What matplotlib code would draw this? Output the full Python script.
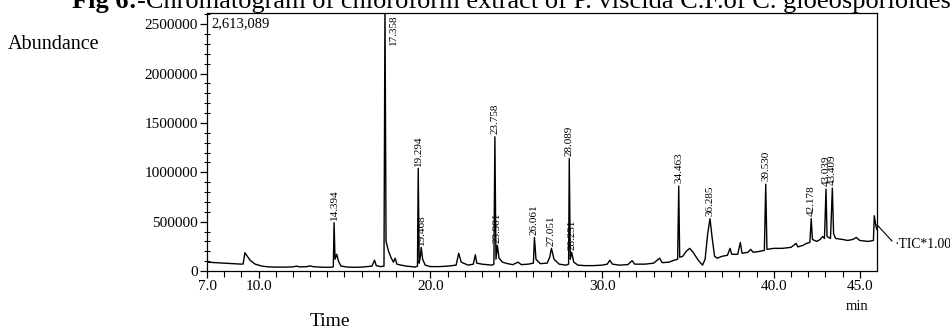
import matplotlib
matplotlib.use("Agg")
import matplotlib.pyplot as plt
import numpy as np

plt.rcParams['font.family'] = ['Liberation Serif', 'DejaVu Serif']

# chromatogram trace, vertices (time in min, abundance)
rt = [7.0, 7.5, 8.0, 8.5, 9.0, 9.1, 9.2, 9.3, 9.5, 9.8, 10.2, 10.6,
      11.0, 11.5, 12.0, 12.2, 12.4, 12.8, 13.0, 13.2, 13.6, 14.0, 14.3,
      14.35, 14.394, 14.45, 14.55, 14.65, 14.8, 15.2, 15.6, 16.0, 16.3, 16.6,
      16.75, 16.85, 17.1, 17.3, 17.358, 17.42, 17.55, 17.7, 17.85, 17.95,
      18.05, 18.3, 18.6, 18.9, 19.1, 19.25, 19.294, 19.35, 19.42, 19.468,
      19.55, 19.7, 20.0, 20.5, 21.0, 21.5, 21.65, 21.8, 22.2, 22.5, 22.62,
      22.7, 23.0, 23.3, 23.6, 23.7, 23.758, 23.82, 23.901, 24.0, 24.2, 24.5,
      24.8, 25.1, 25.3, 25.7, 26.0, 26.061, 26.15, 26.4, 26.8, 26.95, 27.051,
      27.2, 27.5, 27.9, 28.05, 28.089, 28.15, 28.231, 28.35, 28.6, 29.0,
      29.5, 30.0, 30.3, 30.45, 30.6, 31.0, 31.5, 31.75, 31.9, 32.5, 33.0,
      33.35, 33.5, 33.9, 34.2, 34.4, 34.463, 34.52, 34.7, 34.9, 35.1, 35.3,
      35.6, 35.85, 36.0, 36.15, 36.285, 36.4, 36.55, 36.7, 37.0, 37.3, 37.45,
      37.55, 37.9, 38.05, 38.15, 38.5, 38.65, 38.8, 39.2, 39.45, 39.53, 39.6,
      40.0, 40.5, 41.0, 41.3, 41.4, 41.7, 41.9, 42.1, 42.178, 42.25, 42.5,
      42.7, 42.85, 42.95, 43.039, 43.1, 43.3, 43.409, 43.48, 43.6, 44.0,
      44.3, 44.6, 44.8, 45.0, 45.5, 45.8, 45.85, 45.95, 46.0]
abundance = [90000, 85000, 80000, 75000, 70000, 72000, 185000, 160000, 110000,
             70000, 50000, 42000,
             40000, 40000, 42000, 50000, 42000, 45000, 52000, 44000, 40000,
             38000, 40000,
             45000, 490000, 120000, 170000, 100000, 50000, 40000, 38000, 40000,
             45000, 50000,
             110000, 55000, 45000, 50000, 2700000, 300000, 210000, 140000,
             90000, 130000,
             70000, 60000, 50000, 45000, 40000, 50000, 1040000, 80000, 150000,
             240000,
             120000, 60000, 45000, 45000, 50000, 60000, 180000, 90000, 60000,
             70000, 165000,
             80000, 70000, 65000, 60000, 70000, 1360000, 120000, 260000, 130000,
             90000, 75000,
             65000, 90000, 65000, 70000, 80000, 340000, 120000, 75000, 80000,
             140000, 230000,
             120000, 70000, 60000, 70000, 1140000, 120000, 190000, 90000, 60000,
             55000,
             55000, 60000, 70000, 110000, 70000, 60000, 65000, 105000, 70000,
             70000, 80000,
             130000, 85000, 90000, 110000, 120000, 860000, 140000, 150000,
             200000, 230000, 190000,
             110000, 60000, 120000, 380000, 530000, 350000, 150000, 130000,
             150000, 160000, 230000,
             170000, 170000, 290000, 180000, 190000, 220000, 190000, 200000,
             210000, 880000, 220000,
             230000, 230000, 240000, 280000, 245000, 260000, 280000, 290000,
             530000, 320000, 300000,
             320000, 350000, 330000, 830000, 350000, 330000, 840000, 380000,
             330000, 320000,
             310000, 320000, 340000, 310000, 300000, 310000, 560000, 450000,
             420000]

peak_rt = [14.394, 17.358, 19.294, 19.468, 23.758, 23.901, 26.061, 27.051,
           28.089, 28.231, 34.463, 36.285, 39.53, 42.178, 43.039, 43.409]
peak_text = ["14.394", "17.358", "19.294", "19.468", "23.758", "23.901",
             "26.061", "27.051", "28.089", "28.231", "34.463", "36.285",
             "39.530", "42.178", "43.039", "43.409"]

y_top = 2613089
x_ticks = [7.0, 10.0, 20.0, 30.0, 40.0, 45.0]
y_ticks = [0, 500000, 1000000, 1500000, 2000000, 2500000]

fig = plt.figure(figsize=(9.5, 3.33), dpi=100)
ax = fig.add_axes([0.218, 0.186, 0.705, 0.775])
ax.plot(rt, abundance, color='black', lw=1.0)
ax.set_xlim(7.0, 46.0)
ax.set_ylim(0, y_top)

ax.set_xticks(x_ticks)
ax.set_xticklabels(["%.1f" % t for t in x_ticks])
ax.set_xticks(np.arange(8, 46, 1.0), minor=True)
ax.set_yticks(y_ticks)
ax.set_yticklabels([str(v) for v in y_ticks])
ax.set_yticks(np.arange(0, y_top, 100000), minor=True)
ax.tick_params(axis='both', which='major', labelsize=11, length=5,
               direction='out', width=0.9, pad=1.5)
ax.tick_params(axis='y', which='minor', length=4, direction='inout', width=0.8)
ax.tick_params(axis='x', which='minor', length=4, direction='out', width=0.8)
for s in ax.spines.values():
    s.set_linewidth(0.9)

# retention time labels
rt_arr = np.array(rt)
ab_arr = np.array(abundance)
for t, lab in zip(peak_rt, peak_text):
    h = ab_arr[np.argmin(np.abs(rt_arr - t))]
    if h > y_top:
        ax.annotate(lab, (t, y_top), xytext=(3, -1), textcoords='offset points',
                    rotation=90, ha='left', va='top', fontsize=8)
    else:
        ax.annotate(lab, (t, h), xytext=(0, 2), textcoords='offset points',
                    rotation=90, ha='center', va='bottom', fontsize=8)

ax.text(0.006, 0.985, "2,613,089", transform=ax.transAxes, fontsize=10.5,
        ha='left', va='top')
ax.annotate("\u00b7TIC*1.00", (46.0, 470000), xytext=(13, -14),
            textcoords='offset points', fontsize=9.8, ha='left', va='center',
            annotation_clip=False,
            arrowprops=dict(arrowstyle='-', color='black', lw=0.8,
                            shrinkA=0, shrinkB=0, relpos=(0, 0.5)))

fig.text(857 / 950, 1 - 306 / 333, "min", fontsize=10.5, ha='center',
         va='center')
fig.text(330 / 950, 1 - 322 / 333, "Time", fontsize=14, ha='center',
         va='center')
fig.text(8 / 950, 1 - 49 / 333, "Abundance", fontsize=14.5, ha='left',
         va='baseline')

t1 = fig.text(72 / 950, 1 - 8 / 333, "Fig 6:", fontsize=19, fontweight='bold',
              ha='left', va='baseline')
fig.canvas.draw()
bb = t1.get_window_extent()
fig.text(bb.x1 / fig.bbox.width, 1 - 8 / 333,
         "-Chromatogram of chloroform extract of P. viscida C.F.of C. gloeosporioides",
         fontsize=19, ha='left', va='baseline')

fig.savefig("out.png", dpi=100)
